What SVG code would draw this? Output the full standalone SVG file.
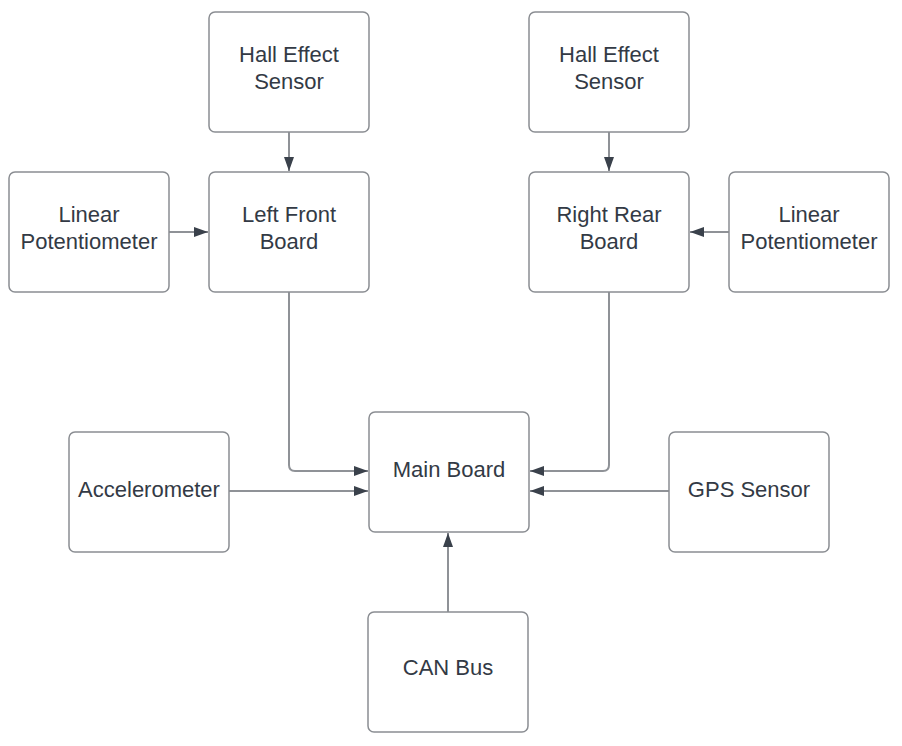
<svg xmlns="http://www.w3.org/2000/svg" width="902" height="746" viewBox="0 0 902 746">
<style>
.box{fill:#fff;stroke:#8a8d92;stroke-width:1.5}
.t{font-family:"Liberation Sans",Arial,sans-serif;font-size:22px;fill:#333a45;text-anchor:middle}
.c{fill:none;stroke:#8f9297;stroke-width:2}
</style>
<defs>
<marker id="a" markerWidth="14" markerHeight="10" refX="14" refY="5" orient="auto" markerUnits="userSpaceOnUse">
<path d="M0,0L14,5L0,10Z" fill="#3a414b"/>
</marker>
</defs>
<rect width="902" height="746" fill="#fff"/>
<g id="connectors">
<path class="c" d="M289,132V171" marker-end="url(#a)"/>
<path class="c" d="M609,132V171" marker-end="url(#a)"/>
<path class="c" d="M169,232H208" marker-end="url(#a)"/>
<path class="c" d="M729,232H690" marker-end="url(#a)"/>
<path class="c" d="M289,292V465Q289,471 295,471H368" marker-end="url(#a)"/>
<path class="c" d="M609,292V465Q609,471 603,471H530" marker-end="url(#a)"/>
<path class="c" d="M229,491H368" marker-end="url(#a)"/>
<path class="c" d="M669,491H530" marker-end="url(#a)"/>
<path class="c" d="M448,612V533" marker-end="url(#a)"/>
</g>
<g id="hall-left"><rect class="box" x="209" y="12" width="160" height="120" rx="6"/><text class="t" x="289" y="62">Hall Effect</text><text class="t" x="289" y="89">Sensor</text></g>
<g id="hall-right"><rect class="box" x="529" y="12" width="160" height="120" rx="6"/><text class="t" x="609" y="62">Hall Effect</text><text class="t" x="609" y="89">Sensor</text></g>
<g id="linpot-left"><rect class="box" x="9" y="172" width="160" height="120" rx="6"/><text class="t" x="89" y="222">Linear</text><text class="t" x="89" y="249">Potentiometer</text></g>
<g id="left-front"><rect class="box" x="209" y="172" width="160" height="120" rx="6"/><text class="t" x="289" y="222">Left Front</text><text class="t" x="289" y="249">Board</text></g>
<g id="right-rear"><rect class="box" x="529" y="172" width="160" height="120" rx="6"/><text class="t" x="609" y="222">Right Rear</text><text class="t" x="609" y="249">Board</text></g>
<g id="linpot-right"><rect class="box" x="729" y="172" width="160" height="120" rx="6"/><text class="t" x="809" y="222">Linear</text><text class="t" x="809" y="249">Potentiometer</text></g>
<g id="main"><rect class="box" x="369" y="412" width="160" height="120" rx="6"/><text class="t" x="449" y="477">Main Board</text></g>
<g id="accel"><rect class="box" x="69" y="432" width="160" height="120" rx="6"/><text class="t" x="149" y="497">Accelerometer</text></g>
<g id="gps"><rect class="box" x="669" y="432" width="160" height="120" rx="6"/><text class="t" x="749" y="497">GPS Sensor</text></g>
<g id="can"><rect class="box" x="368" y="612" width="160" height="120" rx="6"/><text class="t" x="448" y="675">CAN Bus</text></g>
</svg>
